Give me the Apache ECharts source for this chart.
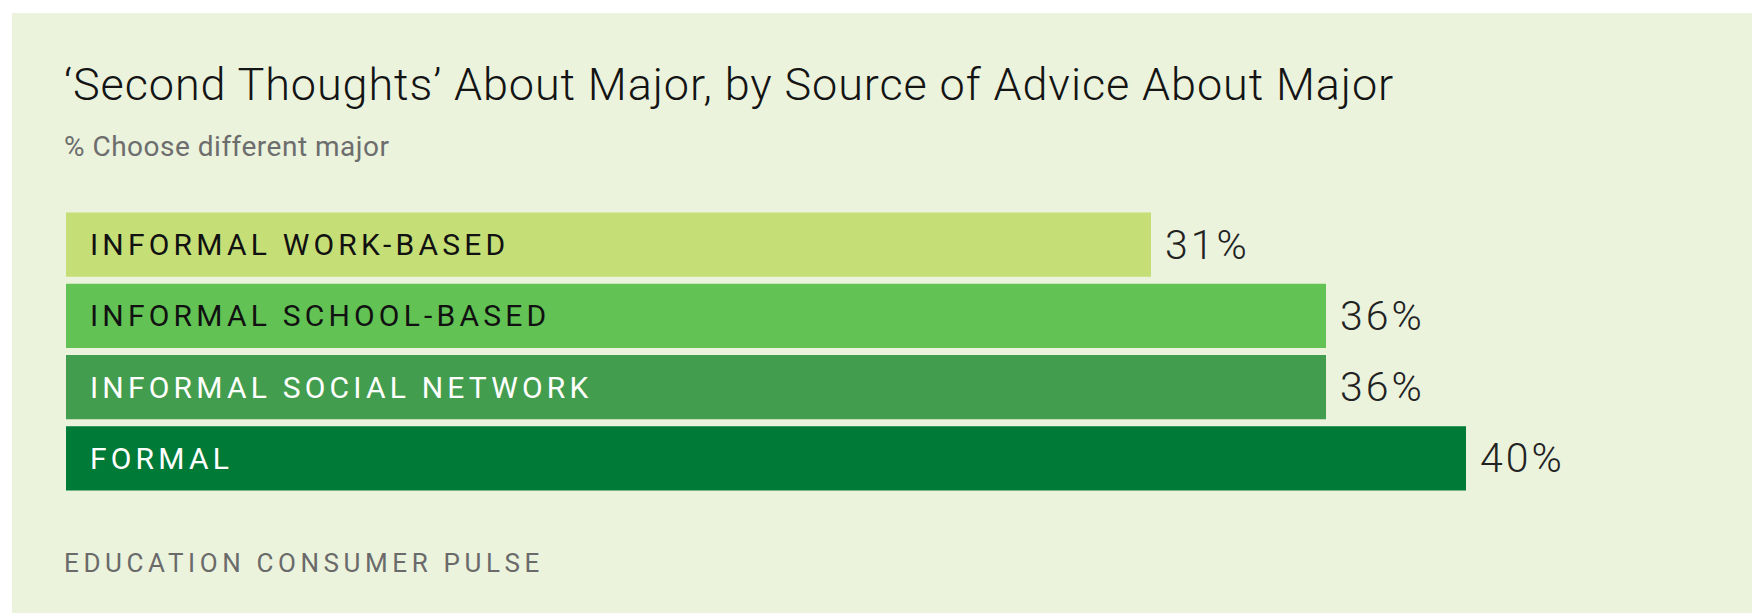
<!DOCTYPE html>
<html><head><meta charset="utf-8">
<script src="https://cdn.jsdelivr.net/npm/echarts@6/dist/echarts.min.js"></script>
<style>
html,body{margin:0;padding:0;background:#ffffff;}
#chart{width:1759px;height:613px;}
#chart text[style*="LStitle"]{letter-spacing:0.9px;}
#chart text[style*="LSsub"]{letter-spacing:0.5px;}
#chart text[style*="LSbar"]{letter-spacing:4.2px;}
#chart text[style*="LSfoot"]{letter-spacing:4.6px;}
#chart text[style*="LSval"]{letter-spacing:3px;}
</style></head><body><div id="chart"></div>
<script>
const titleText = "\u2018Second Thoughts\u2019 About Major, by Source of Advice About Major";
const subtitleText = "% Choose different major";
const sourceText = "EDUCATION CONSUMER PULSE";
const categories = ["INFORMAL WORK-BASED", "INFORMAL SCHOOL-BASED", "INFORMAL SOCIAL NETWORK", "FORMAL"];
const values = [31, 36, 36, 40];
const barColors = ["#C5DE76", "#62C254", "#439D4E", "#007A37"];
const labelColors = ["#111111", "#111111", "#ffffff", "#ffffff"];

const chart = echarts.init(document.getElementById('chart'), null, {renderer: 'svg'});
chart.setOption({
  animation: false,
  backgroundColor: '#ffffff',
  grid: {left: 66, right: 13, top: 209, height: 285, containLabel: false},
  xAxis: {type: 'value', min: 0, max: 48, show: false},
  yAxis: {type: 'category', data: categories, inverse: true, show: false},
  graphic: [
    {type: 'rect', z: -10, silent: true, shape: {x: 12, y: 13, width: 1740, height: 600}, style: {fill: '#EBF3DD'}},
    {type: 'text', x: 64, y: 84, silent: true, style: {text: titleText, fontSize: 45, fontWeight: 300, fontFamily: 'Roboto, LStitle', fill: '#141414', verticalAlign: 'middle', align: 'left'}},
    {type: 'text', x: 64, y: 146, silent: true, style: {text: subtitleText, fontSize: 28, fontWeight: 400, fontFamily: 'Roboto, LSsub', fill: '#6d6d6d', verticalAlign: 'middle', align: 'left'}},
    {type: 'text', x: 64, y: 563, silent: true, style: {text: sourceText, fontSize: 26, fontWeight: 400, fontFamily: 'Roboto, LSfoot', fill: '#6a6a6a', verticalAlign: 'middle', align: 'left'}}
  ],
  series: [
    {
      type: 'bar', silent: true, barCategoryGap: '10%', barGap: '-100%',
      data: values.map((v, i) => ({value: v, itemStyle: {color: barColors[i]}, label: {color: labelColors[i]}})),
      label: {show: true, position: 'insideLeft', distance: 24, formatter: '{b}', fontSize: 30, fontWeight: 400, fontFamily: 'Roboto, LSbar'}
    },
    {
      type: 'bar', silent: true, barCategoryGap: '10%', barGap: '-100%',
      data: values,
      itemStyle: {color: 'rgba(0,0,0,0)'},
      label: {show: true, position: 'right', distance: 14, formatter: '{c}%', fontSize: 41, fontWeight: 300, fontFamily: 'Roboto, LSval', color: '#222222'}
    }
  ]
});
</script></body></html>
